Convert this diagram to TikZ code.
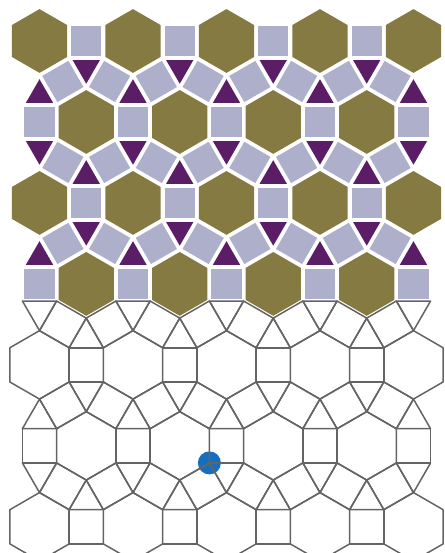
\documentclass[tikz,border=0pt]{standalone}
\usepackage{tikz}

\definecolor{hexolive}{RGB}{133,122,66}
\definecolor{sqlavender}{RGB}{174,176,203}
\definecolor{tripurple}{RGB}{91,30,102}
\definecolor{wiregray}{RGB}{100,100,100}
\definecolor{dotblue}{RGB}{22,110,190}

% one tile: centre x, centre y, sides, first angle, circumradius, shrink, fill style
\newcommand{\tile}[7]{%
  \pgfmathsetmacro\tcx{#1}%
  \pgfmathsetmacro\tcy{#2}%
  \pgfmathsetmacro\trw{#5}%
  \pgfmathsetmacro\trc{#5*#6}%
  \pgfmathtruncatemacro\tlast{#3-1}%
  \pgfmathtruncatemacro\incol{(\tcx>25)*(\tcx<425)*(\tcy>20)*(\tcy<300)}%
  \pgfmathtruncatemacro\inwire{(\tcx>25)*(\tcx<425)*(\tcy>300)*(\tcy<550)}%
  \ifnum\incol=1
    \fill[#7, shift={(\tcx,\tcy)}] (#4:\trc)
      \foreach \k in {1,...,\tlast}{ -- ({#4+360/#3*\k}:\trc)} -- cycle;
  \fi
  \ifnum\inwire=1
    \draw[wire, shift={(\tcx,\tcy)}] (#4:\trw)
      \foreach \k in {1,...,\tlast}{ -- ({#4+360/#3*\k}:\trw)} -- cycle;
  \fi}

\begin{document}
\begin{tikzpicture}[
    x=1pt, y=-1pt,
    wire/.style={draw=wiregray, line width=1.5pt, line join=round},
    hexfill/.style={fill=hexolive},
    sqfill/.style={fill=sqlavender},
    trifill/.style={fill=tripurple},
    pinnode/.style={circle, fill=dotblue, minimum size=23pt, inner sep=0pt}
]
    \useasboundingbox (0,0) rectangle (444,553);
    \clip (0,0) rectangle (444,553);

    \pgfmathsetmacro\edgelen{34.22}
    \pgfmathsetmacro\hexstep{\edgelen*(1+sqrt(3))}
    \pgfmathsetmacro\rowstep{\hexstep*sqrt(3)/2}
    \pgfmathsetmacro\tristep{\hexstep/sqrt(3)}

    %------------------------------------------------
    % marked vertex
    %------------------------------------------------
    \node[pinnode] (pin) at (209.4,462.9) {};

    %------------------------------------------------
    % 3.4.6.4 tiling: coloured above, outlines below
    %------------------------------------------------
    \foreach \j in {0,...,7}{
      \foreach \i in {-1,...,5}{
        \pgfmathsetmacro\hx{39.5+\i*\hexstep+mod(\j,2)*\hexstep/2}
        \pgfmathsetmacro\hy{41+\j*\rowstep}
        % hexagon
        \tile{\hx}{\hy}{6}{30}{\edgelen}{0.932}{hexfill}
        % squares
        \tile{\hx+\hexstep/2}{\hy}{4}{45}{\edgelen/sqrt(2)}{0.883}{sqfill}
        \tile{\hx+\hexstep/4}{\hy+\rowstep/2}{4}{15}{\edgelen/sqrt(2)}{0.883}{sqfill}
        \tile{\hx-\hexstep/4}{\hy+\rowstep/2}{4}{75}{\edgelen/sqrt(2)}{0.883}{sqfill}
        % triangles
        \tile{\hx}{\hy-\tristep}{3}{90}{\edgelen/sqrt(3)}{0.797}{trifill}
        \tile{\hx}{\hy+\tristep}{3}{270}{\edgelen/sqrt(3)}{0.797}{trifill}
      }
    }

\end{tikzpicture}
\end{document}
